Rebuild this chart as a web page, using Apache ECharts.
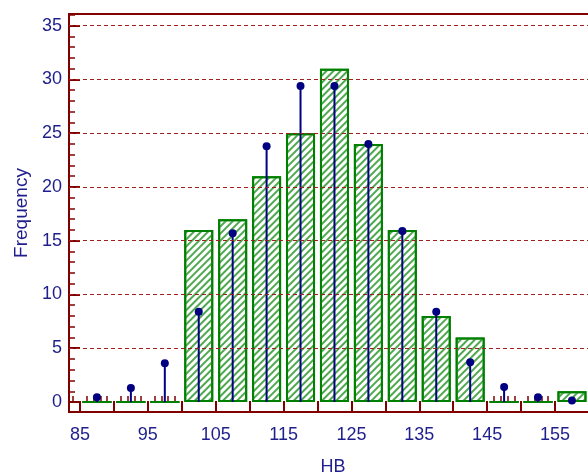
<!DOCTYPE html>
<html lang="en">
<head>
<meta charset="UTF-8">
<title>HB histogram</title>
<script src="https://cdn.jsdelivr.net/npm/echarts@6/dist/echarts.min.js"></script>
<style>html,body{margin:0;padding:0;background:#fff;}</style>
</head>
<body>
<div id="main" style="width:588px;height:474px;"></div>
<script type="text/javascript">

// histogram bins (HB), width 5, given by their midpoints
const binMids = [87.5, 92.5, 97.5, 102.5, 107.5, 112.5, 117.5, 122.5, 127.5, 132.5, 137.5, 142.5, 147.5, 152.5, 157.5];
const counts = [0, 0, 0, 16, 17, 21, 25, 31, 24, 16, 8, 6, 0, 0, 1];
// expected frequencies (the dots)
const expected = [0.45, 1.3, 3.6, 8.4, 15.7, 23.8, 29.4, 29.4, 24.0, 15.9, 8.4, 3.7, 1.4, 0.45, 0.15];

// tick values
const xMajorTicks = [85, 90, 95, 100, 105, 110, 115, 120, 125, 130, 135, 140, 145, 150, 155, 160];
const xLabels = [85, 95, 105, 115, 125, 135, 145, 155];
const yLabels = [0, 5, 10, 15, 20, 25, 30, 35];
const yGridLines = [5, 10, 15, 20, 25, 30, 35];

// minor ticks = every whole unit that is not a major tick
const xMinorTicks = [];
for (let v = 84; v <= 161; v++) if (v % 5 !== 0) xMinorTicks.push(v);
const yMinorTicks = [];
for (let v = 1; v <= 36; v++) if (v % 5 !== 0) yMinorTicks.push(v);

const axisRed = '#800000';
const labelBlue = '#1e1e8c';
const barGreen = '#008000';
const font = 'Arial, "Liberation Sans", sans-serif';
const BAR_W = 29;

const X_MIN = 83.38, X_MAX = 161.19;
const Y_MIN = -0.93, Y_MAX = 36.09;

let myChart = echarts.init(document.getElementById('main'));

let option = {
    animation: false,
    grid: {
        left: 69, right: -9, top: 14, bottom: 62,
        outerBoundsMode: 'none', containLabel: false,
        show: true, borderColor: axisRed, borderWidth: 2, backgroundColor: 'transparent'
    },
    xAxis: [{
        type: 'value', min: X_MIN, max: X_MAX,
        name: 'HB', nameLocation: 'middle', nameGap: 46,
        nameTextStyle: { color: labelBlue, fontSize: 18, fontFamily: font },
        axisLine: { show: true, onZero: false, lineStyle: { color: axisRed, width: 2 } },
        axisTick: { show: true, inside: true, length: 11, customValues: xMajorTicks, lineStyle: { color: axisRed, width: 2 } },
        axisLabel: { customValues: xLabels, color: labelBlue, fontSize: 18, fontFamily: font, margin: 14 },
        splitLine: { show: false }
    }, {
        type: 'value', min: X_MIN, max: X_MAX, position: 'bottom',
        axisLine: { show: false },
        axisTick: { show: true, inside: true, length: 6, customValues: xMinorTicks, lineStyle: { color: axisRed, width: 1.5 } },
        axisLabel: { show: false },
        splitLine: { show: false }
    }],
    yAxis: [{
        type: 'value', min: Y_MIN, max: Y_MAX,
        name: 'Frequency', nameLocation: 'middle', nameGap: 31,
        nameTextStyle: { color: labelBlue, fontSize: 19, fontFamily: font },
        axisLine: { show: true, onZero: false, lineStyle: { color: axisRed, width: 2 } },
        axisTick: { show: true, inside: true, length: 11, customValues: yLabels, lineStyle: { color: axisRed, width: 2 } },
        axisLabel: { customValues: yLabels, color: labelBlue, fontSize: 18, fontFamily: font, margin: 7 },
        splitLine: { show: false }
    }, {
        type: 'value', min: Y_MIN, max: Y_MAX, position: 'left',
        axisLine: { show: false },
        axisTick: { show: true, inside: true, length: 6, customValues: yMinorTicks, lineStyle: { color: axisRed, width: 1.5 } },
        axisLabel: { show: false },
        splitLine: { show: false }
    }],
    series: [{
        // dashed grid lines, behind the bars
        type: 'line', data: [], z: 1, silent: true,
        markLine: {
            silent: true, symbol: ['none', 'none'], label: { show: false },
            lineStyle: { color: '#a02020', type: [4, 3], width: 1 },
            data: yGridLines.map(v => ({ yAxis: v }))
        }
    }, {
        name: 'Observed', type: 'bar', z: 2,
        barWidth: BAR_W,
        data: binMids.map((x, i) => [x, counts[i]]),
        itemStyle: {
            color: '#ffffff', borderColor: barGreen, borderWidth: 2,
            decal: {
                symbol: 'rect', symbolSize: 1, color: '#4fa84f',
                dashArrayX: [1, 0], dashArrayY: [1.2, 2.4], rotation: -Math.PI / 4
            }
        }
    }, {
        // empty bins are shown as a flat green line on zero
        name: 'Empty bins', type: 'custom', z: 2,
        data: binMids.map((x, i) => [x, counts[i]]),
        renderItem: function (params, api) {
            if (api.value(1) !== 0) return null;
            let p = api.coord([api.value(0), 0]);
            return {
                type: 'line',
                shape: { x1: p[0] - BAR_W / 2, y1: p[1], x2: p[0] + BAR_W / 2, y2: p[1] },
                style: { stroke: barGreen, lineWidth: 2 }
            };
        }
    }, {
        name: 'Expected', type: 'custom', z: 3,
        data: binMids.map((x, i) => [x, expected[i]]),
        renderItem: function (params, api) {
            let top = api.coord([api.value(0), api.value(1)]);
            let base = api.coord([api.value(0), 0]);
            return {
                type: 'group',
                children: [{
                    type: 'line',
                    shape: { x1: top[0], y1: top[1], x2: base[0], y2: base[1] },
                    style: { stroke: '#000080', lineWidth: 2 }
                }, {
                    type: 'circle',
                    shape: { cx: top[0], cy: top[1], r: 4 },
                    style: { fill: '#000080' }
                }]
            };
        }
    }]
};

myChart.setOption(option);
</script>
</body>
</html>
